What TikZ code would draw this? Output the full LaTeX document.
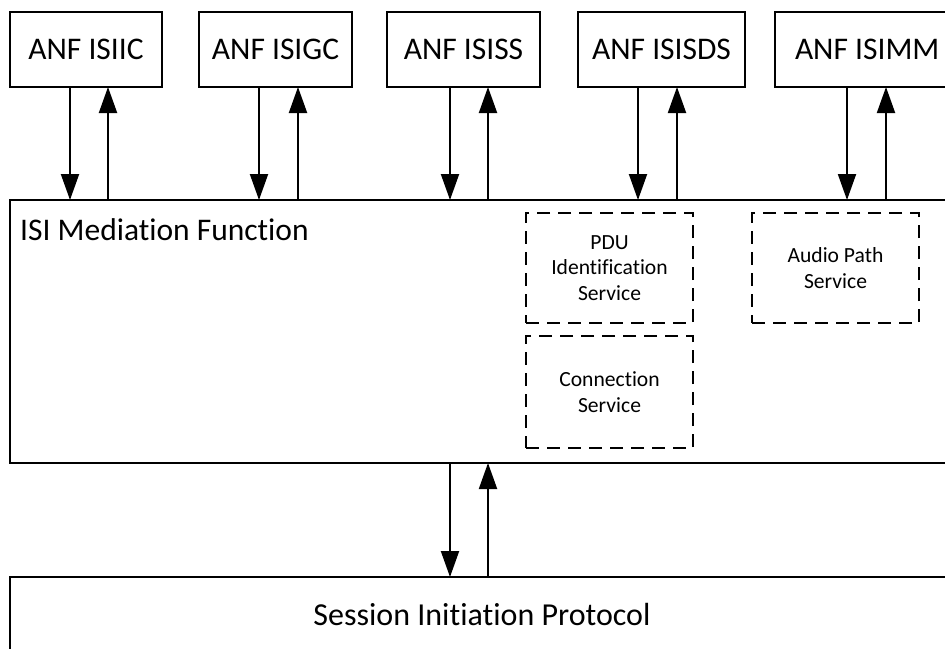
\documentclass[tikz,border=0pt]{standalone}
\usepackage{fontspec}
\setmainfont{Carlito}[Ligatures={NoCommon,NoRequired,NoContextual}]
\usetikzlibrary{arrows.meta}
\begin{document}
\begin{tikzpicture}[x=1pt,y=-1pt,
  box/.style={draw=black,line width=2pt,inner sep=0pt,outer sep=0pt},
  anf/.style={box,minimum height=75pt,anchor=north west,font=\fontsize{31.5}{36}\selectfont},
  svc/.style={draw=black,line width=2pt,dash pattern=on 13pt off 8pt,inner sep=0pt,outer sep=0pt,
    anchor=north west,minimum width=167pt,minimum height=110pt,align=center,
    font=\fontsize{21.6}{25.5}\selectfont},
  arr/.style={line width=2pt,-{Triangle[length=26pt,width=18pt]}}]
\clip (0,0) rectangle (945,648);
\fill[white] (0,0) rectangle (945,648);
% ANF boxes
\node[anf,minimum width=152pt] (a1) at (10,12) {ANF ISIIC};
\node[anf,minimum width=153pt] (a2) at (199,12) {ANF ISIGC};
\node[anf,minimum width=153pt] (a3) at (387,12) {ANF ISISS};
\node[anf,minimum width=167pt] (a4) at (578,12) {ANF ISISDS};
\node[anf,minimum width=190pt] (a5) at (775,12) {\makebox[170pt][l]{\hspace*{10pt}ANF ISIMM}};
% Mediation function
\node[box,anchor=north west,minimum width=960pt,minimum height=263pt] (med) at (10,200) {};
\node[anchor=base west,inner sep=0pt,font=\fontsize{31.5}{36}\selectfont] (medl) at (20,240) {ISI Mediation Function};
% services
\node[svc] (pdu) at (526,213) {PDU\\Identification\\Service};
\node[svc,minimum height=112pt] (con) at (526,336) {Connection\\Service};
\node[svc] (aud) at (752,213) {Audio Path\\Service};
% SIP
\node[box,anchor=north west,minimum width=960pt,minimum height=120pt] (sip) at (10,577) {};
\node[anchor=base,inner sep=0pt,font=\fontsize{32}{38}\selectfont] (sipl) at (482,625) {Session Initiation Protocol};
% arrows
\draw[arr] (70,0 |- a1.south) -- (70,0 |- med.north);
\draw[arr] (108,0 |- med.north) -- (108,0 |- a1.south);
\draw[arr] (259,0 |- a2.south) -- (259,0 |- med.north);
\draw[arr] (298,0 |- med.north) -- (298,0 |- a2.south);
\draw[arr] (450,0 |- a3.south) -- (450,0 |- med.north);
\draw[arr] (488,0 |- med.north) -- (488,0 |- a3.south);
\draw[arr] (638,0 |- a4.south) -- (638,0 |- med.north);
\draw[arr] (677,0 |- med.north) -- (677,0 |- a4.south);
\draw[arr] (847,0 |- a5.south) -- (847,0 |- med.north);
\draw[arr] (886,0 |- med.north) -- (886,0 |- a5.south);
\draw[arr] (450,0 |- med.south) -- (450,0 |- sip.north);
\draw[arr] (488,0 |- sip.north) -- (488,0 |- med.south);
\end{tikzpicture}
\end{document}
